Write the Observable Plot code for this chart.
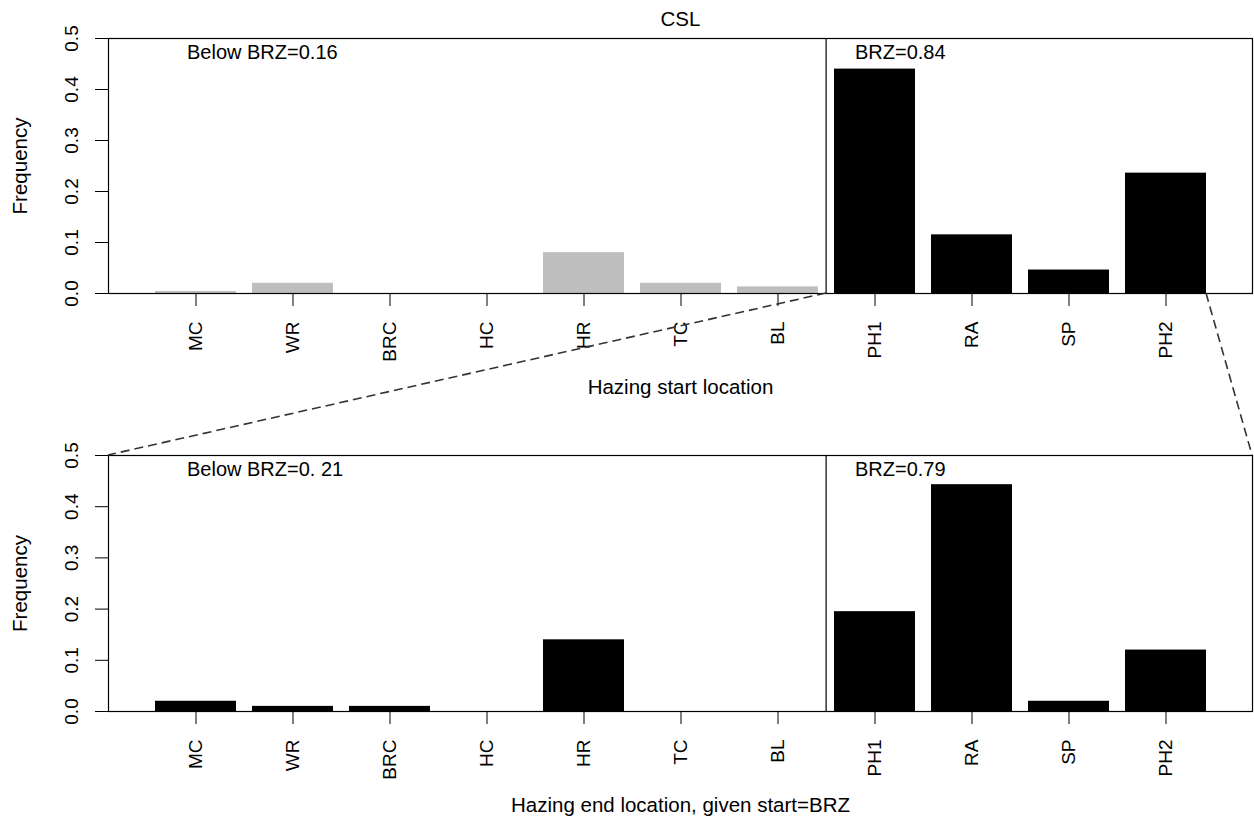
<!DOCTYPE html>
<html>
<head>
<meta charset="utf-8">
<script src="https://cdn.jsdelivr.net/npm/d3@7"></script>
<script src="https://cdn.jsdelivr.net/npm/@observablehq/plot@0.6"></script>
<style>
  body { margin: 0; background: white; }
  #wrap { position: relative; width: 1254px; height: 822px; background: white; }
  #wrap > svg, #wrap > div { position: absolute; left: 0; }
</style>
</head>
<body>
<div id="wrap"></div>
<script>
// ---- data ----
const categories = ["MC", "WR", "BRC", "HC", "HR", "TC", "BL", "PH1", "RA", "SP", "PH2"];
const zones = ["below", "below", "below", "below", "below", "below", "below", "BRZ", "BRZ", "BRZ", "BRZ"];
const startFreq = [0.004, 0.02, 0, 0, 0.08, 0.02, 0.013, 0.44, 0.115, 0.046, 0.236];
const endFreq = [0.02, 0.01, 0.01, 0, 0.14, 0, 0, 0.195, 0.443, 0.02, 0.12];
const yTicks = [0, 0.1, 0.2, 0.3, 0.4, 0.5];
const title = "CSL";
const topLabels = ["Below BRZ=0.16", "BRZ=0.84"];
const bottomLabels = ["Below BRZ=0. 21", "BRZ=0.79"];
const topXTitle = "Hazing start location";
const bottomXTitle = "Hazing end location, given start=BRZ";
const yTitle = "Frequency";

// ---- layout ----
const W = 1254;
const mL = 108, mR = 2;
const padInner = 0.2 / 1.2, padOuter = 0.52 / 1.2;
const step = (W - mL - mR) / (categories.length - padInner + 2 * padOuter);
const font = "'Liberation Sans', Arial, sans-serif";

const topData = categories.map((c, i) => ({cat: c, zone: zones[i], freq: startFreq[i]}));
const botData = categories.map((c, i) => ({cat: c, zone: "BRZ", freq: endFreq[i]}));

function panel({data, height, marginTop, marginBottom, labels, xTitle, withTitle}) {
  const marks = [
    Plot.barY(data, {x: "cat", y: "freq", fill: "zone"}),
    Plot.frame({stroke: "black", strokeWidth: 1.2}),
    Plot.ruleX(["PH1"], {x: d => d, y1: 0, y2: 0.5, dx: -step / 2, stroke: "black", strokeWidth: 1.2}),
    Plot.axisX({tickSize: 13, tickRotate: -90, tickPadding: 15, label: null, fontSize: 19}),
    Plot.axisY({ticks: yTicks, tickFormat: d => d.toFixed(1), tickSize: 13, tickRotate: -90, tickPadding: 18, label: null, fontSize: 19}),
    Plot.text([labels[0]], {x: () => "MC", y: 0.473, text: d => d, textAnchor: "start", dx: -9, fontSize: 20}),
    Plot.text([labels[1]], {x: () => "PH1", y: 0.473, text: d => d, textAnchor: "start", dx: -20, fontSize: 20}),
    Plot.text([xTitle], {frameAnchor: "bottom", text: d => d, dy: 94, lineAnchor: "middle", textAnchor: "middle", fontSize: 20.5}),
    Plot.text([yTitle], {frameAnchor: "left", text: d => d, dx: -88, rotate: -90, lineAnchor: "middle", textAnchor: "middle", fontSize: 20.5})
  ];
  if (withTitle) marks.push(Plot.text([title], {frameAnchor: "top", text: d => d, dy: -19, lineAnchor: "middle", textAnchor: "middle", fontSize: 20.5}));
  return Plot.plot({
    width: W,
    height,
    marginTop,
    marginBottom,
    marginLeft: mL,
    marginRight: mR,
    style: {fontFamily: font, fontSize: "19px", background: "transparent", color: "black"},
    x: {type: "band", domain: categories, paddingInner: padInner, paddingOuter: padOuter, align: 0.5},
    y: {domain: [0, 0.5]},
    color: {domain: ["below", "BRZ"], range: ["#bebebe", "#000000"]},
    marks
  });
}

const topOffset = 0, botOffset = 415;
const topPlot = panel({data: topData, height: 415, marginTop: 38, marginBottom: 122, labels: topLabels, xTitle: topXTitle, withTitle: true});
const botPlot = panel({data: botData, height: 407, marginTop: 40, marginBottom: 111, labels: bottomLabels, xTitle: bottomXTitle, withTitle: false});
topPlot.style.top = topOffset + "px";
botPlot.style.top = botOffset + "px";
const wrap = document.getElementById("wrap");
wrap.appendChild(topPlot);
wrap.appendChild(botPlot);

// ---- zoom connector lines, from the plots' own scales ----
const tx = topPlot.scale("x"), ty = topPlot.scale("y");
const bx = botPlot.scale("x"), by = botPlot.scale("y");
const gap = tx.step - tx.bandwidth;
const yBase = ty.apply(0) + topOffset;
const yTopBot = by.apply(0.5) + botOffset;
const connectors = [
  [[tx.apply("PH1") - gap / 2, yBase], [bx.range[0], yTopBot]],
  [[tx.apply("PH2") + tx.bandwidth, yBase], [bx.range[1], yTopBot]]
];
const svg = d3.select(wrap).append("svg")
  .attr("width", W).attr("height", 822)
  .style("position", "absolute").style("top", "0px").style("left", "0px")
  .style("pointer-events", "none");
svg.selectAll("line").data(connectors).join("line")
  .attr("x1", d => d[0][0]).attr("y1", d => d[0][1])
  .attr("x2", d => d[1][0]).attr("y2", d => d[1][1])
  .attr("stroke", "#333").attr("stroke-width", 1.6).attr("stroke-dasharray", "9,5");
</script>
</body>
</html>
